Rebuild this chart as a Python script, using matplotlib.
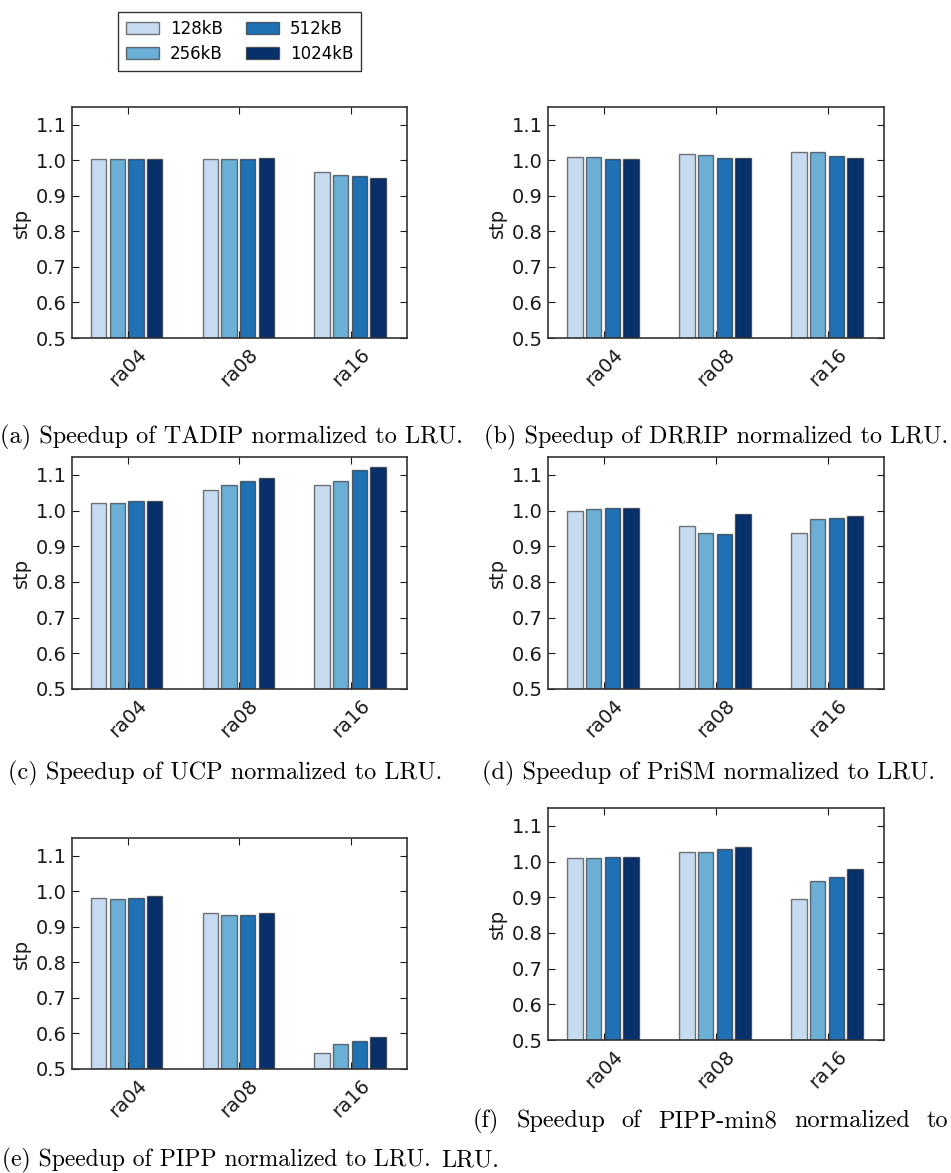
import matplotlib
matplotlib.use("Agg")
import matplotlib.pyplot as plt
import numpy as np

categories = ["ra04", "ra08", "ra16"]
series_labels = ["128kB", "256kB", "512kB", "1024kB"]
colors = ["#c6dbef", "#6baed6", "#2171b5", "#08306b"]

# values[series][category]
tadip = [[1.003, 1.003, 0.968],
         [1.003, 1.003, 0.958],
         [1.003, 1.003, 0.955],
         [1.003, 1.006, 0.951]]
drrip = [[1.008, 1.019, 1.024],
         [1.008, 1.015, 1.024],
         [1.003, 1.006, 1.011],
         [1.003, 1.006, 1.006]]
ucp = [[1.022, 1.057, 1.071],
       [1.022, 1.071, 1.084],
       [1.026, 1.084, 1.113],
       [1.026, 1.090, 1.122]]
prism = [[1.000, 0.958, 0.938],
         [1.004, 0.938, 0.975],
         [1.007, 0.935, 0.978],
         [1.007, 0.991, 0.984]]
pipp = [[0.980, 0.940, 0.545],
        [0.978, 0.932, 0.571],
        [0.980, 0.932, 0.578],
        [0.986, 0.940, 0.591]]
pipp_min8 = [[1.009, 1.026, 0.896],
             [1.009, 1.026, 0.945],
             [1.012, 1.036, 0.958],
             [1.012, 1.042, 0.980]]

yticks = [0.5, 0.6, 0.7, 0.8, 0.9, 1.0, 1.1]

W, H = 951, 1173
fig = plt.figure(figsize=(W / 100, H / 100), dpi=100)

def px_axes(left, right, top, bottom):
    return fig.add_axes([left / W, 1 - bottom / H, (right - left) / W, (bottom - top) / H])

panels = [
    (tadip, (72, 407, 107, 338)),
    (drrip, (548, 884, 107, 338)),
    (ucp, (72, 407, 457, 689)),
    (prism, (548, 884, 457, 689)),
    (pipp, (72, 407, 838, 1069)),
    (pipp_min8, (548, 884, 808, 1040)),
]

pitch = 0.167
bw = 0.138
x = np.arange(len(categories))
handles = None
for data, pos in panels:
    ax = px_axes(*pos)
    hs = []
    for i, vals in enumerate(data):
        off = (i - 1.5) * pitch - 0.01
        h = ax.bar(x + off, np.array(vals) - 0.5, bw, bottom=0.5, color=colors[i],
                   edgecolor=(0.12, 0.12, 0.12, 0.6), linewidth=1.0, label=series_labels[i])
        hs.append(h)
    handles = hs
    ax.set_xlim(-0.5, 2.5)
    ax.set_ylim(0.5, 1.15)
    ax.set_yticks(yticks)
    ax.set_yticklabels([f"{v:.1f}" for v in yticks])
    ax.set_xticks(x)
    ax.set_xticklabels(categories, rotation=45, ha="center")
    ax.tick_params(direction="in", top=True, right=True, length=5, width=0.8,
                   labelsize=14, colors="#1a1a1a", pad=4)
    ax.tick_params(axis="x", pad=5)
    for s in ax.spines.values():
        s.set_linewidth(1.2)
        s.set_color("#333333")
    ax.set_ylabel("stp", fontsize=14, color="#1a1a1a", labelpad=3)

fig.legend(handles=handles, labels=series_labels, loc="upper left",
           bbox_to_anchor=(118 / W, 1 - 12 / H), borderaxespad=0, ncol=2,
           fontsize=12, frameon=True, fancybox=False, edgecolor="black",
           handlelength=2.0, handleheight=0.75, columnspacing=1.4, borderpad=0.45,
           labelspacing=0.45, handletextpad=0.65)

cap_font = dict(family="cmr10", fontsize=17.5, color="black")

def ytop(y):
    return 1 - y / H

fig.text(0 / W, ytop(437), "(a) Speedup of TADIP normalized to LRU.", ha="left", va="center", **cap_font)
fig.text(948 / W, ytop(437), "(b) Speedup of DRRIP normalized to LRU.", ha="right", va="center", **cap_font)
fig.text(8 / W, ytop(773), "(c) Speedup of UCP normalized to LRU.", ha="left", va="center", **cap_font)
fig.text(482 / W, ytop(773), "(d) Speedup of PriSM normalized to LRU.", ha="left", va="center", **cap_font)
cap_e = fig.text(2 / W, ytop(1160), "(e) Speedup of PIPP normalized to LRU.", ha="left", va="center", **cap_font)
fig.text(441 / W, ytop(1160), "LRU.", ha="left", va="center", **cap_font)

fig.canvas.draw()
renderer = fig.canvas.get_renderer()
# fit caption (e) into its column (ends before x=432)
we = cap_e.get_window_extent(renderer).width
cap_e.set_fontsize(cap_font["fontsize"] * 430 / we)

# justified first line of caption (f)
words = ["(f)", "Speedup", "of", "PIPP-min8", "normalized", "to"]
x0, x1 = 473, 948
tobjs = []
widths = []
for w_ in words:
    t = fig.text(0, ytop(1121), w_, ha="left", va="center", **cap_font)
    widths.append(t.get_window_extent(renderer).width)
    tobjs.append(t)
gap = (x1 - x0 - sum(widths)) / (len(words) - 1)
cx = x0
for t, wd in zip(tobjs, widths):
    t.set_x(cx / W)
    cx += wd + gap

fig.savefig("out.png", dpi=100)
